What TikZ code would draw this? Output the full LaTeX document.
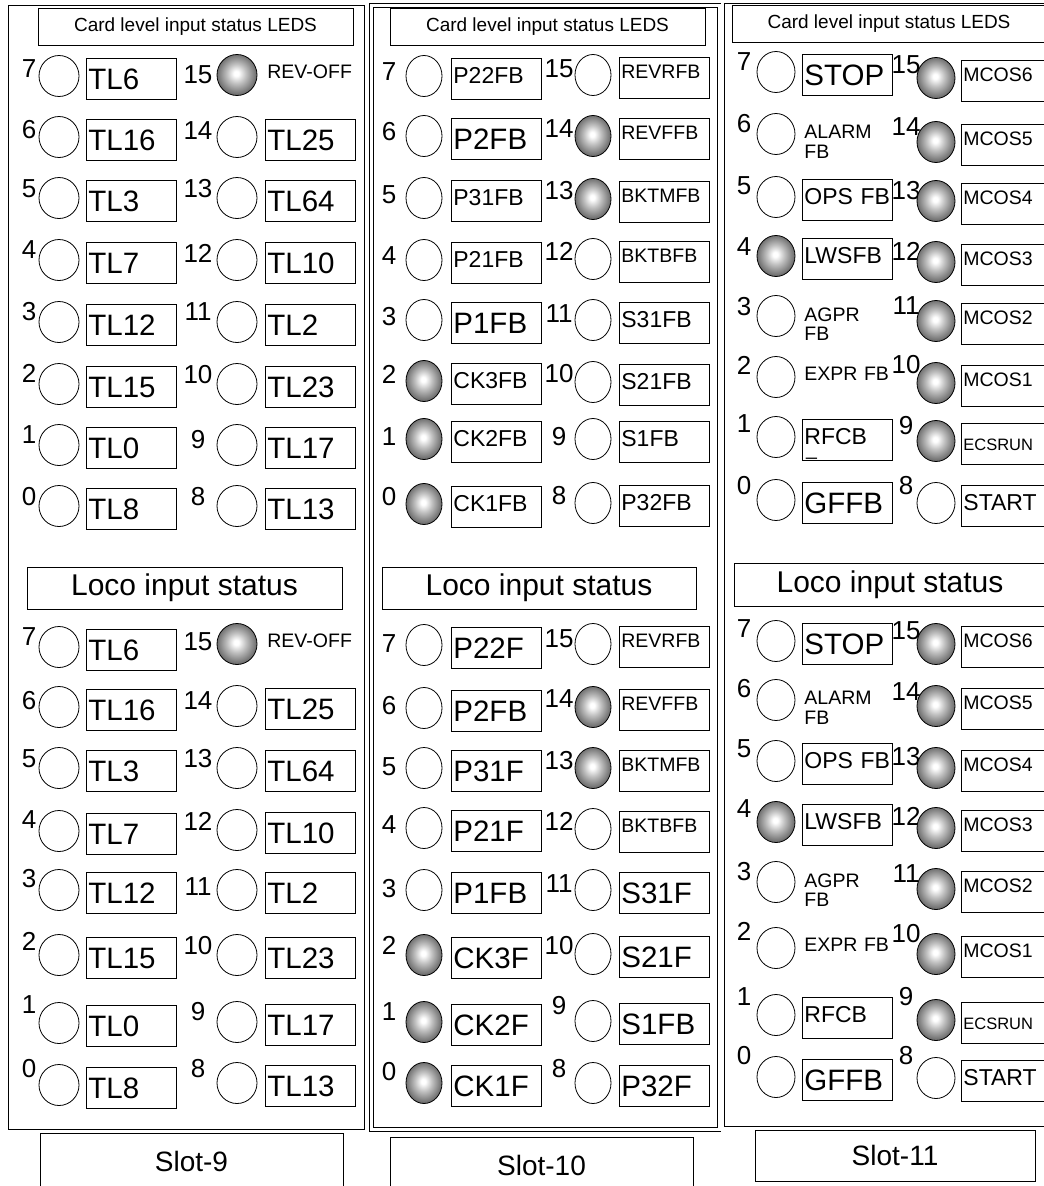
\documentclass[tikz,border=0pt]{standalone}
\usepackage{fontspec}
\setmainfont{Liberation Sans}
\usetikzlibrary{shapes.geometric}
\pgfdeclareradialshading{ledglow}{\pgfpoint{-1bp}{2bp}}{color(0bp)=(white); color(3bp)=(white); color(12bp)=(black!25); color(25bp)=(black!58); color(50bp)=(black!58)}
\tikzset{
	panel/.style={line width=0.8pt},
	caption box/.style={draw, line width=0.8pt, inner sep=0pt},
	headbox/.style={caption box, minimum width=315pt, minimum height=37pt, font=\fontsize{19}{19}\selectfont},
	locobox/.style={caption box, minimum width=315pt, minimum height=42pt, font=\fontsize{30}{30}\selectfont},
	slotbox/.style={caption box, minimum width=303pt, minimum height=56pt, font=\fontsize{28}{28}\selectfont},
	pin num/.style={font=\fontsize{26}{26}\selectfont, anchor=base, inner sep=0pt},
	led/.style={ellipse, draw, line width=0.8pt, minimum width=40pt, minimum height=41pt, inner sep=0pt},
	ledoff/.style={fill=white},
	ledon/.style={shade, shading=ledglow},
	tag/.style={draw, line width=0.8pt, anchor=west, minimum width=90pt, minimum height=41pt, text width=86pt, inner xsep=2pt, inner ysep=0pt, align=left},
	tagbig/.style={tag, font=\fontsize{29.5}{30}\selectfont, text height=20pt, text depth=0pt},
	tagmid/.style={tag, font=\fontsize{23}{23}\selectfont, text height=8pt, text depth=0pt},
	tagsmall/.style={tag, font=\fontsize{19.5}{20}\selectfont, text height=4pt, text depth=4pt},
	tagtiny/.style={tag, font=\fontsize{16.5}{17}\selectfont, text height=12pt, text depth=0pt},
	tagfree/.style={tagsmall, draw=none, text width=110pt},
	tagtwo/.style={tag, draw=none, text width=110pt, font=\fontsize{19.5}{19.5}\selectfont, yshift=-5pt},
}
% one column of LEDs: name, number x, led x, tag left x, entries
\newcommand{\ledcolumn}[5]{%
	\foreach \n/\cy/\ny/\st/\lab/\sty in {#5}{
		\node[pin num] (#1-n\n) at (#2,\ny) {\n};
		\node[led, \st] (#1-l\n) at (#3,\cy) {};
		\node[\sty] (#1-t\n) at (#4,\cy+3) {\lab};
	}%
}
\begin{document}
\begin{tikzpicture}[x=1pt, y=-1pt]
	\useasboundingbox (0,0) rectangle (1044,1186);
	\clip (0,0) rectangle (1044,1186);
	% panels
	\draw[panel] (8,5) rectangle (364,1129);
	\draw[panel, double, double distance=3pt, line width=0.7pt] (371.5,5.5) rectangle (719,1129.5);
	\draw[panel] (1050,3) -- (724,3) -- (724,1126) -- (1050,1126);
	% headings
	\node[headbox] (s9-head) at (195.5,26.5) {Card level input status LEDS};
	\node[headbox] (s10-head) at (547.5,26.5) {Card level input status LEDS};
	\node[headbox, minimum width=314pt] (s11-head) at (889,23.5) {Card level input status LEDS};
	\node[locobox] (s9-loco) at (184.5,588) {Loco input status};
	\node[locobox, minimum width=314pt] (s10-loco) at (539,588) {Loco input status};
	\node[locobox, minimum width=312pt, minimum height=43pt] (s11-loco) at (890,584.5) {Loco input status};
	% slot 9
	\ledcolumn{s9a}{29}{59}{86}{7/76/77/ledoff/TL6/tagbig, 6/137/138/ledoff/TL16/tagbig, 5/198/197/ledoff/TL3/tagbig, 4/260/258/ledoff/TL7/tagbig, 3/322/320/ledoff/TL12/tagbig, 2/384/382/ledoff/TL15/tagbig, 1/445/443/ledoff/TL0/tagbig, 0/506/505/ledoff/TL8/tagbig}
	\ledcolumn{s9b}{198}{237}{265}{15/75/83/ledon/REV-OFF/tagfree, 14/137/139/ledoff/TL25/tagbig, 13/198/197/ledoff/TL64/tagbig, 12/260/262/ledoff/TL10/tagbig, 11/322/320/ledoff/TL2/tagbig, 10/384/383/ledoff/TL23/tagbig, 9/445/448/ledoff/TL17/tagbig, 8/506/505/ledoff/TL13/tagbig}
	\ledcolumn{s9c}{29}{59}{86}{7/647/645/ledoff/TL6/tagbig, 6/707/709/ledoff/TL16/tagbig, 5/768/767/ledoff/TL3/tagbig, 4/831/828/ledoff/TL7/tagbig, 3/890/887/ledoff/TL12/tagbig, 2/955/950/ledoff/TL15/tagbig, 1/1023/1013/ledoff/TL0/tagbig, 0/1085/1077/ledoff/TL8/tagbig}
	\ledcolumn{s9d}{198}{237}{265}{15/644/650/ledon/REV-OFF/tagfree, 14/706/709/ledoff/TL25/tagbig, 13/768/767/ledoff/TL64/tagbig, 12/830/830/ledoff/TL10/tagbig, 11/890/895/ledoff/TL2/tagbig, 10/955/954/ledoff/TL23/tagbig, 9/1022/1020/ledoff/TL17/tagbig, 8/1083/1077/ledoff/TL13/tagbig}
	% slot 10
	\begin{scope}[led/.append style={minimum width=36pt}]
		\ledcolumn{s10a}{389}{424}{451}{7/76/80/ledoff/P22FB/tagmid, 6/136/140/ledoff/P2FB/tagbig, 5/198/203/ledoff/P31FB/tagmid, 4/260/264/ledoff/P21FB/tagmid, 3/320/325/ledoff/P1FB/tagbig, 2/381/383/ledon/CK3FB/tagmid, 1/439/445/ledon/CK2FB/tagmid, 0/504/505/ledon/CK1FB/tagmid}
		\ledcolumn{s10b}{559}{593}{619}{15/75/77/ledoff/REVRFB/tagsmall, 14/136/137/ledon/REVFFB/tagsmall, 13/199/199/ledon/BKTMFB/tagsmall, 12/259/260/ledoff/BKTBFB/tagsmall, 11/320/322/ledoff/S31FB/tagmid, 10/382/382/ledoff/S21FB/tagmid, 9/439/445/ledoff/S1FB/tagmid, 8/503/504/ledoff/P32FB/tagmid}
		\ledcolumn{s10c}{389}{424}{451}{7/645/652/ledoff/P22F/tagbig, 6/708/714/ledoff/P2FB/tagbig, 5/768/775/ledoff/P31F/tagbig, 4/828/833/ledoff/P21F/tagbig, 3/890/897/ledoff/P1FB/tagbig, 2/955/954/ledon/CK3F/tagbig, 1/1022/1020/ledon/CK2F/tagbig, 0/1083/1080/ledon/CK1F/tagbig}
		\ledcolumn{s10d}{559}{593}{619}{15/644/647/ledoff/REVRFB/tagsmall, 14/707/707/ledon/REVFFB/tagsmall, 13/768/769/ledon/BKTMFB/tagsmall, 12/829/830/ledoff/BKTBFB/tagsmall, 11/890/892/ledoff/S31F/tagbig, 10/954/954/ledoff/S21F/tagbig, 9/1021/1014/ledoff/S1FB/tagbig, 8/1083/1077/ledoff/P32F/tagbig}
	\end{scope}
	% slot 11
	\begin{scope}[led/.append style={minimum width=38pt}]
		\ledcolumn{s11a}{744}{776}{802}{7/72/70/ledoff/STOP/tagbig, 6/134/132/ledoff/{ALARM\\FB}/tagtwo, 5/197/194/ledoff/OPS FB/tagmid, 4/256/255/ledon/LWSFB/tagmid, 3/316/315/ledoff/{AGPR\\FB}/tagtwo, 2/377/374/ledoff/EXPR FB/tagfree, 1/437/432/ledoff/RFCB/tagmid, 0/500/494/ledoff/GFFB/tagbig}
		\ledcolumn{s11b}{906}{936}{961}{15/78/73/ledon/MCOS6/tagsmall, 14/142/135/ledon/MCOS5/tagsmall, 13/201/199/ledon/MCOS4/tagsmall, 12/262/260/ledon/MCOS3/tagsmall, 11/321/314/ledon/MCOS2/tagsmall, 10/383/373/ledon/MCOS1/tagsmall, 9/441/434/ledon/ECSRUN/tagtiny, 8/503/494/ledoff/START/tagmid}
		\ledcolumn{s11c}{744}{776}{802}{7/641/637/ledoff/STOP/tagbig, 6/700/697/ledoff/{ALARM\\FB}/tagtwo, 5/761/757/ledoff/OPS FB/tagmid, 4/822/817/ledon/LWSFB/tagmid, 3/882/880/ledoff/{AGPR\\FB}/tagtwo, 2/948/940/ledoff/EXPR FB/tagfree, 1/1015/1005/ledoff/RFCB/tagmid, 0/1077/1064/ledoff/GFFB/tagbig}
		\ledcolumn{s11d}{906}{936}{961}{15/644/639/ledon/MCOS6/tagsmall, 14/706/700/ledon/MCOS5/tagsmall, 13/768/765/ledon/MCOS4/tagsmall, 12/828/825/ledon/MCOS3/tagsmall, 11/889/882/ledon/MCOS2/tagsmall, 10/954/942/ledon/MCOS1/tagsmall, 9/1020/1005/ledon/ECSRUN/tagtiny, 8/1078/1064/ledoff/START/tagmid}
	\end{scope}
	\node[font=\fontsize{19.5}{20}\selectfont, anchor=base west, inner sep=0pt] (s11a-bar) at (806,455) {\_};
	% slot names
	\node[slotbox] (s9-name) at (191.5,1161) {Slot-9};
	\node[slotbox] (s10-name) at (541.5,1165) {Slot-10};
	\node[slotbox, minimum width=280pt, minimum height=51pt] (s11-name) at (895,1155.5) {Slot-11};
\end{tikzpicture}
\end{document}
